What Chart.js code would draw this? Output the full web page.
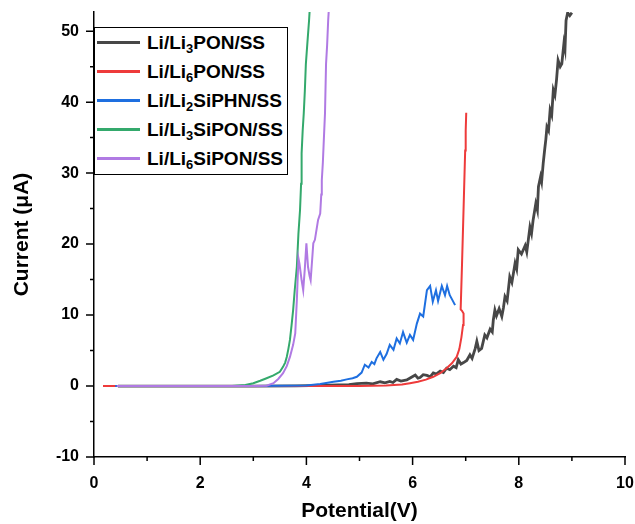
<!DOCTYPE html>
<html lang="en">
<head>
  <meta charset="UTF-8" />
  <title>Linear sweep voltammetry</title>
  <script src="https://cdn.jsdelivr.net/npm/chart.js"></script>
  <style>
    body {
      margin: 0;
      background: #fff;
    }
    #wrap {
      position: relative;
      width: 635px;
      height: 524px;
    }
    #legend {
      position: absolute;
      left: 94px;
      top: 27px;
      width: 194px;
      height: 148px;
      border: 1px solid #000;
      box-sizing: border-box;
      background: #fff;
      font: bold 19px "Liberation Sans", Arial, sans-serif;
      color: #000;
    }
    .row {
      display: flex;
      align-items: center;
      height: 29px;
    }
    .swatch {
      width: 43px;
      height: 2.5px;
      margin: 0 7px 0 2px;
    }
    sub {
      font-size: 0.68em;
      line-height: 0;
      vertical-align: -0.28em;
    }
  </style>
</head>
<body>
  <div id="wrap">
    <canvas id="lsv" width="635" height="524"></canvas>
    <div id="legend"></div>
  </div>

  <script>
    // series names (digits are subscripts)
    const seriesNames = ["Li/Li3PON/SS", "Li/Li6PON/SS", "Li/Li2SiPHN/SS", "Li/Li3SiPON/SS", "Li/Li6SiPON/SS"];
    const seriesColors = ["#474747", "#ee3b3b", "#1e6fe0", "#34a96c", "#b07ae3"];

    // Li/Li3PON/SS
    const li3ponV = [0.45, 1.0, 2.0, 3.0, 3.8, 4.3, 4.6, 4.8, 4.95, 5.13, 5.25, 5.39, 5.48, 5.57, 5.63, 5.70, 5.78, 5.89, 5.97, 6.05,
      6.10, 6.14, 6.20, 6.27, 6.33, 6.39, 6.45, 6.52, 6.58, 6.64, 6.70, 6.77, 6.82, 6.86, 6.91, 6.96, 7.02, 7.08, 7.12, 7.18,
      7.21, 7.25, 7.30, 7.36, 7.40, 7.46, 7.50, 7.52, 7.55, 7.58, 7.63, 7.68, 7.71, 7.74, 7.78, 7.83, 7.87, 7.93, 7.96, 7.99,
      8.05, 8.12, 8.15, 8.21, 8.24, 8.27, 8.32, 8.35, 8.37, 8.41, 8.43, 8.46, 8.49, 8.51, 8.53, 8.56, 8.59, 8.62, 8.65, 8.68,
      8.71, 8.74, 8.78, 8.81, 8.85, 8.87, 8.89, 8.92, 8.96, 9.0];
    const li3ponI = [0, 0, 0, 0, 0.02, 0.08, 0.15, 0.2, 0.35, 0.4, 0.3, 0.6, 0.45, 0.65, 0.5, 0.94, 0.7, 0.85, 1.2, 1.55,
      1.1, 1.2, 1.6, 1.5, 1.3, 1.85, 1.7, 2.1, 1.9, 2.5, 2.3, 2.8, 2.6, 3.7, 3.1, 3.3, 3.6, 4.4, 3.9, 5.3,
      6.3, 5.0, 5.3, 7.2, 6.8, 8.0, 7.6, 9.3, 10.7, 9.9, 10.9, 9.8, 11.0, 12.6, 12.0, 15.4, 14.6, 17.3, 16.5, 19.2,
      18.6, 19.8, 18.9, 22.4, 21.5, 23.4, 25.7, 24.8, 28.1, 29.5, 28.8, 31.4, 33.5, 34.8, 36.5, 36.0, 38.9, 38.2, 41.7, 41.0,
      43.1, 45.9, 45.0, 45.4, 48.3, 47.5, 51.5, 52.6, 52.2, 52.6];

    // Li/Li6PON/SS
    const li6ponV = [0.17, 1, 2, 3, 4, 5, 5.5, 5.8, 5.95, 6.1, 6.25, 6.39, 6.52, 6.64, 6.74, 6.83, 6.88, 6.92, 6.95, 6.96,
      6.93, 6.905, 6.93, 6.96, 6.99, 7.0, 7.01];
    const li6ponI = [0, 0, 0, 0, 0, 0.02, 0.08, 0.2, 0.4, 0.6, 0.9, 1.3, 1.8, 2.5, 3.2, 4.1, 5.2, 6.9, 8.6, 10.2,
      10.6, 10.8, 17, 25, 33.2, 36, 38.5];

    // Li/Li2SiPHN/SS
    const li2siphnV = [0.4, 1, 2, 3, 3.6, 4.0, 4.26, 4.4, 4.51, 4.65, 4.76, 4.87, 4.95, 5.04, 5.10, 5.17, 5.23, 5.28, 5.32, 5.39,
      5.45, 5.51, 5.57, 5.64, 5.70, 5.76, 5.82, 5.89, 5.95, 6.01, 6.08, 6.14, 6.20, 6.27, 6.33, 6.38, 6.44, 6.48, 6.55, 6.61,
      6.65, 6.70, 6.75, 6.80];
    const li2siphnI = [0, 0, 0, 0.02, 0.04, 0.08, 0.28, 0.45, 0.6, 0.75, 0.94, 1.1, 1.3, 1.9, 3.0, 2.6, 3.4, 3.1, 3.9, 4.8,
      3.7, 4.5, 5.8, 5.1, 6.7, 6.0, 7.6, 6.1, 7.2, 6.5, 8.8, 10.2, 9.8, 13.5, 14.1, 11.9, 13.5, 12.0, 14.1, 12.8,
      14.1, 12.8, 12.1, 11.4];

    // Li/Li3SiPON/SS
    const li3siponV = [0.45, 1, 2, 2.6, 2.85, 3.0, 3.13, 3.25, 3.38, 3.5, 3.56, 3.6, 3.63, 3.66, 3.69, 3.72, 3.75, 3.78, 3.82, 3.85,
      3.88, 3.9, 3.91, 3.93, 3.95, 3.97, 3.99, 4.02, 4.05, 4.07];
    const li3siponI = [0, 0, 0, 0.02, 0.15, 0.4, 0.75, 1.1, 1.5, 2.0, 2.7, 3.3, 4.1, 5.2, 6.5, 8.5, 10.7, 13.5, 16.8, 21.5,
      24.8, 28.5, 32.8, 36, 38.4, 41.5, 45.4, 48.5, 51.5, 54];

    // Li/Li6SiPON/SS
    const li6siponV = [0.43, 1, 2, 3, 3.25, 3.38, 3.47, 3.56, 3.63, 3.69, 3.75, 3.79, 3.82, 3.85, 3.87, 3.91, 3.94, 3.97, 4.0, 4.03,
      4.06, 4.08, 4.11, 4.13, 4.16, 4.19, 4.22, 4.26, 4.28, 4.29, 4.31, 4.33, 4.35, 4.37, 4.39, 4.41, 4.43];
    const li6siponI = [0, 0, 0, 0, 0.05, 0.4, 1.0, 1.8, 2.8, 4.1, 5.8, 7.4, 12.1, 18.0, 17.2, 14.9, 13.5, 16.5, 20.1, 16.8,
      15.5, 14.9, 18, 20.1, 20.6, 22, 23.4, 24.3, 27, 29, 31.5, 35, 38.4, 45.4, 48, 51.5, 54];

    const xSeries = [li3ponV, li6ponV, li2siphnV, li3siponV, li6siponV];
    const ySeries = [li3ponI, li6ponI, li2siphnI, li3siponI, li6siponI];

    const subDigits = "₀₁₂₃₄₅₆₇₈₉";
    const fontFamily = '"Liberation Sans", Arial, sans-serif';

    const datasets = seriesNames.map((name, i) => ({
      label: name.replace(/\d/g, d => subDigits[d]),
      data: xSeries[i].map((v, k) => ({ x: v, y: ySeries[i][k] })),
      borderColor: seriesColors[i],
      backgroundColor: seriesColors[i],
      borderWidth: i === 0 ? 2.8 : 2,
      pointRadius: 0,
      tension: 0,
      order: seriesNames.length - i
    }));

    // major + minor tick marks drawn outside the axes
    const tickMarks = {
      id: "tickMarks",
      afterDraw(chart) {
        const ctx = chart.ctx;
        const xs = chart.scales.x;
        const ys = chart.scales.y;
        ctx.save();
        ctx.strokeStyle = "#000";
        ctx.lineWidth = 1.5;
        ctx.beginPath();
        xs.ticks.forEach((t, i) => {
          const px = xs.getPixelForValue(t.value);
          ctx.moveTo(px, xs.top);
          ctx.lineTo(px, xs.top + 8);
          if (i < xs.ticks.length - 1) {
            const mx = xs.getPixelForValue((t.value + xs.ticks[i + 1].value) / 2);
            ctx.moveTo(mx, xs.top);
            ctx.lineTo(mx, xs.top + 4);
          }
        });
        ys.ticks.forEach((t, i) => {
          const py = ys.getPixelForValue(t.value);
          ctx.moveTo(ys.right, py);
          ctx.lineTo(ys.right - 8, py);
          if (i < ys.ticks.length - 1) {
            const my = ys.getPixelForValue((t.value + ys.ticks[i + 1].value) / 2);
            ctx.moveTo(ys.right, my);
            ctx.lineTo(ys.right - 4, my);
          }
        });
        ctx.stroke();
        ctx.restore();
      }
    };

    function noEdgePadding(scale) {
      scale.paddingLeft = 0;
      scale.paddingRight = 0;
      scale.paddingTop = 0;
      scale.paddingBottom = 0;
    }

    const chart = new Chart(document.getElementById("lsv").getContext("2d"), {
      type: "line",
      data: { datasets: datasets },
      options: {
        responsive: false,
        animation: false,
        devicePixelRatio: 1,
        layout: { padding: { top: 12, right: 10, left: 0, bottom: 0 } },
        plugins: {
          legend: { display: false },
          tooltip: { enabled: false }
        },
        scales: {
          x: {
            type: "linear",
            min: 0,
            max: 10,
            grid: { display: false, drawTicks: false },
            border: { display: true, color: "#000", width: 1.5 },
            ticks: {
              stepSize: 2,
              autoSkip: false,
              maxRotation: 0,
              padding: 17,
              color: "#000",
              font: { family: fontFamily, size: 16, weight: "bold" }
            },
            title: {
              display: true,
              text: "Potential(V)",
              color: "#000",
              padding: { top: 0, bottom: 0 },
              font: { family: fontFamily, size: 21, weight: "bold" }
            },
            afterFit(scale) {
              scale.height = 67;
              noEdgePadding(scale);
            }
          },
          y: {
            type: "linear",
            min: -10,
            max: 52.7,
            grid: { display: false, drawTicks: false },
            border: { display: true, color: "#000", width: 1.5 },
            ticks: {
              stepSize: 10,
              includeBounds: false,
              padding: 15,
              color: "#000",
              font: { family: fontFamily, size: 16, weight: "bold" }
            },
            title: {
              display: true,
              text: "Current (μA)",
              color: "#000",
              padding: { top: 10, bottom: 0 },
              font: { family: fontFamily, size: 21, weight: "bold" }
            },
            afterFit(scale) {
              scale.width = 94;
              noEdgePadding(scale);
            }
          }
        }
      },
      plugins: [tickMarks]
    });

    // legend box with real subscripts
    const legendBox = document.getElementById("legend");
    chart.data.datasets.forEach((ds, i) => {
      const row = document.createElement("div");
      row.className = "row";
      const sw = document.createElement("span");
      sw.className = "swatch";
      sw.style.background = ds.borderColor;
      const txt = document.createElement("span");
      txt.innerHTML = seriesNames[i].replace(/(\d)/g, "<sub>$1</sub>");
      row.appendChild(sw);
      row.appendChild(txt);
      legendBox.appendChild(row);
    });
  </script>
</body>
</html>
